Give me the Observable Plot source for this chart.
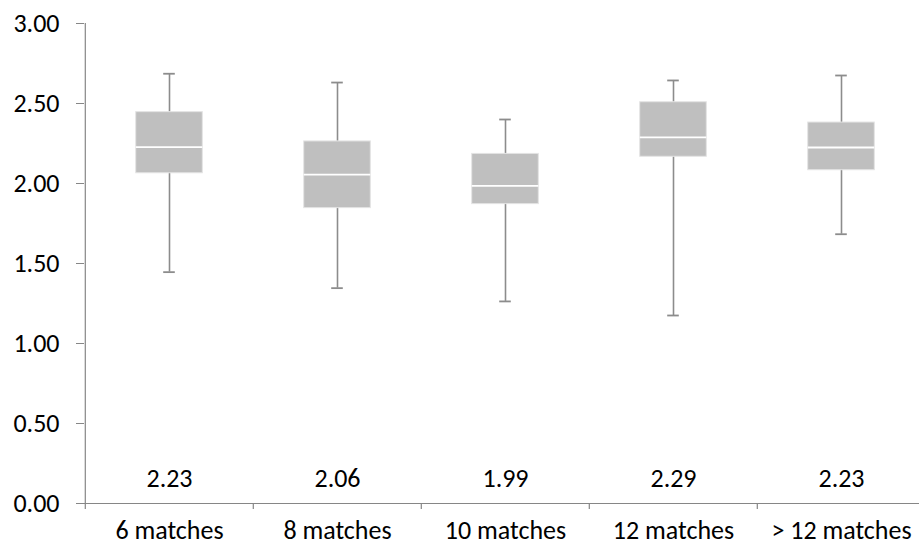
<!DOCTYPE html>
<html>
<head>
<meta charset="utf-8">
<script src="https://cdn.jsdelivr.net/npm/d3@7"></script>
<script src="https://cdn.jsdelivr.net/npm/@observablehq/plot@0.6"></script>
<style>
  html, body { margin: 0; padding: 0; background: #fff; overflow: hidden; }
  #chart svg { overflow: hidden; }
  #chart svg text { fill: #000; }
</style>
</head>
<body>
<div id="chart"></div>
<script>
const categories = ["6 matches", "8 matches", "10 matches", "12 matches", "> 12 matches"];
const whiskerLow  = [1.446, 1.346, 1.263, 1.175, 1.683];
const q1          = [2.064, 1.846, 1.871, 2.167, 2.083];
const median      = [2.227, 2.056, 1.985, 2.288, 2.225];
const q3          = [2.446, 2.263, 2.185, 2.508, 2.381];
const whiskerHigh = [2.686, 2.631, 2.400, 2.644, 2.675];
const labels      = ["2.23", "2.06", "1.99", "2.29", "2.23"];
const yTicks      = [0, 0.5, 1, 1.5, 2, 2.5, 3];

const data = categories.map((c, i) => ({
  cat: c, lo: whiskerLow[i], q1: q1[i], med: median[i], q3: q3[i], hi: whiskerHigh[i], label: labels[i]
}));

const W = 919, H = 547;
const mTop = 23, mBottom = 44, mLeft = 84;
const xRange = [84, 926];
const step = (xRange[1] - xRange[0]) / categories.length;
const boxInset = (step - 67) / 2;
const capInset = (step - 12) / 2;
const grey = "#868686";
const font = "Carlito, Lato, sans-serif";

const chart = Plot.plot({
  width: W,
  height: H,
  marginTop: mTop,
  marginBottom: mBottom,
  marginLeft: mLeft,
  marginRight: 0,
  style: { fontFamily: font, fontSize: "26px", color: grey, background: "#fff" },
  x: { type: "band", domain: categories, range: xRange, padding: 0, tickSize: 0, tickPadding: 17, label: null },
  y: { domain: [0, 3], ticks: yTicks, tickFormat: d3.format(".2f"), tickSize: 8, tickPadding: 17, label: null },
  marks: [
    Plot.ruleY([0], { stroke: grey, strokeWidth: 1.2 }),
    Plot.ruleX(categories.slice(0, 1), { x: d => d, dx: -step / 2, stroke: grey, strokeWidth: 1.2, insetBottom: -6 }),
    Plot.ruleX(categories.slice(1), { x: d => d, dx: -step / 2, stroke: grey, strokeWidth: 1.2, insetTop: H - mTop - mBottom, insetBottom: -6 }),
    Plot.ruleX(data, { x: "cat", y1: "lo", y2: "hi", stroke: "#8c8c8c", strokeWidth: 1.6 }),
    Plot.tickY(data, { x: "cat", y: "lo", stroke: "#8c8c8c", strokeWidth: 1.8, insetLeft: capInset, insetRight: capInset }),
    Plot.tickY(data, { x: "cat", y: "hi", stroke: "#8c8c8c", strokeWidth: 1.8, insetLeft: capInset, insetRight: capInset }),
    Plot.barY(data, { x: "cat", y1: "q1", y2: "q3", fill: "#bfbfbf", stroke: "#e4e4e4", strokeWidth: 1, insetLeft: boxInset, insetRight: boxInset }),
    Plot.tickY(data, { x: "cat", y: "med", stroke: "#ffffff", strokeWidth: 1.8, insetLeft: boxInset, insetRight: boxInset }),
    Plot.text(data, { x: "cat", text: "label", frameAnchor: "bottom", dy: -25, lineAnchor: "middle", fill: "#000", fontSize: 26 })
  ]
});

document.getElementById("chart").appendChild(chart);
</script>
</body>
</html>
